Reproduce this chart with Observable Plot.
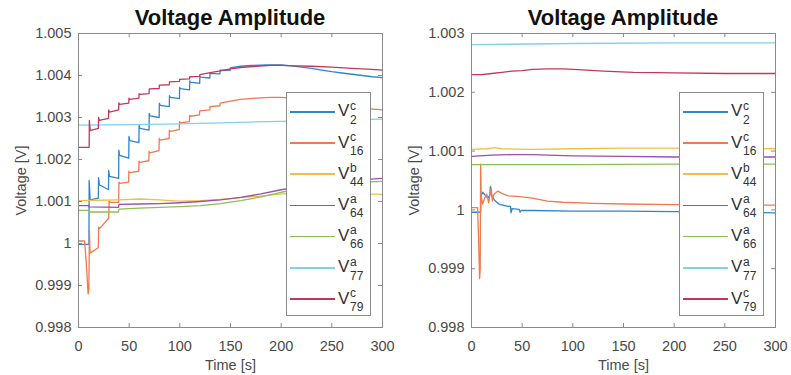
<!DOCTYPE html>
<html><head><meta charset="utf-8">
<script src="https://cdn.jsdelivr.net/npm/d3@7"></script>
<script src="https://cdn.jsdelivr.net/npm/@observablehq/plot@0.6"></script>
<style>
body{margin:0;background:#fff;font-family:"Liberation Sans",Arial,sans-serif;}
#wrap{position:relative;width:791px;height:375px;overflow:hidden;background:#fff;}
.panel{position:absolute;top:0;height:375px;}
.title{position:absolute;top:7px;left:78px;width:304px;font-size:22px;line-height:22px;font-weight:bold;color:#111;text-align:center;white-space:nowrap;}
.legend{position:absolute;top:92px;left:286px;width:85px;height:224px;background:#fff;border:1px solid #8a8a8a;box-sizing:border-box;}
.lg-line{position:absolute;left:3px;width:45px;height:1.5px;}
.lg-v{position:absolute;left:51px;font-size:17px;line-height:17px;color:#333;}
.lg-s{position:absolute;left:63px;font-size:12px;line-height:12px;color:#333;}
.panel svg{position:absolute;top:0;left:0;max-width:none !important;}
</style></head>
<body><div id="wrap"></div>
<script>
// ---------- data ----------
const seriesNames = ["V2c","V16c","V44b","V64a","V66a","V77a","V79c"];
const legendBase = ["V","V","V","V","V","V","V"];
const legendSup = ["c","c","b","a","a","a","c"];
const legendSub = ["2","16","44","64","66","77","79"];
const seriesColors = ["#2f86cc","#ee7a4e","#f2be45","#9b4fae","#8cc056","#7fd0f2","#c0395a"];

const xTicks = [0,50,100,150,200,250,300];
const leftYTicks = [0.998,0.999,1,1.001,1.002,1.003,1.004,1.005];
const leftYLabels = ["0.998","0.999","1","1.001","1.002","1.003","1.004","1.005"];
const rightYTicks = [0.998,0.999,1,1.001,1.002,1.003];
const rightYLabels = ["0.998","0.999","1","1.001","1.002","1.003"];
const chartTitle = "Voltage Amplitude";
const xLabel = "Time [s]";
const yLabel = "Voltage [V]";

// left panel series [time, voltage]
const left_V2c = [[0,0.99998],[10.3,0.99998],[10.5,1.0015],[11.5,1.00104],[19.6,1.00108],[19.8,1.00157],[20.6,1.0014],[29.6,1.00128],[29.8,1.00174],[30.6,1.0016],[39.6,1.00155],[39.8,1.00222],[40.6,1.0021],[49.6,1.00203],[49.8,1.00255],[50.6,1.00245],[59.6,1.0024],[59.8,1.00282],[60.6,1.00274],[69.6,1.0027],[69.8,1.0031],[70.6,1.00304],[79.6,1.003],[79.8,1.00334],[80.6,1.00329],[89.6,1.00326],[89.8,1.00352],[90.6,1.00348],[99.6,1.00345],[99.8,1.00372],[100.6,1.00369],[109.6,1.00366],[109.8,1.00387],[110.6,1.00384],[119.6,1.00381],[119.8,1.00398],[120.6,1.00396],[129.6,1.00394],[129.8,1.00405],[139.6,1.00404],[139.8,1.00413],[149.6,1.00412],[149.8,1.00418],[159.8,1.00422],[170,1.00424],[185,1.00425],[200,1.00425],[210,1.00423],[220,1.0042],[230,1.00417],[240,1.00413],[250,1.00409],[260,1.00406],[270,1.00403],[280,1.004],[290,1.00397],[300,1.00395]];
const left_V16c = [[0,1.00006],[6,1.00006],[7.5,0.9996],[9.5,0.9988],[10.2,0.9989],[10.8,1.00031],[11.4,0.99977],[19.5,0.9999],[19.9,1.00039],[21,1.00036],[29.8,1.0006],[30.2,1.00102],[31,1.00098],[39.6,1.00098],[39.9,1.00146],[41,1.00143],[49.4,1.00146],[49.7,1.00172],[50.5,1.00169],[59.4,1.00172],[59.7,1.00196],[60.5,1.00193],[69.4,1.00197],[69.7,1.00219],[70.5,1.00216],[79.4,1.00221],[79.7,1.0025],[80.5,1.00246],[89.4,1.0025],[89.7,1.0027],[90.5,1.00267],[99.4,1.00271],[99.7,1.0029],[100.5,1.00287],[109.4,1.0029],[109.7,1.00305],[110.5,1.00303],[119.4,1.00306],[119.7,1.00316],[129.6,1.00318],[129.8,1.00326],[139.6,1.00328],[139.8,1.00334],[149.8,1.00339],[160,1.00343],[175,1.00346],[190,1.00348],[200,1.00348],[210,1.00346],[225,1.00342],[240,1.00337],[255,1.00332],[270,1.00326],[285,1.00321],[300,1.00318]];
const left_V44b = [[0,1.00102],[20,1.00103],[40,1.00104],[60,1.00106],[80,1.00104],[100,1.00101],[120,1.00102],[140,1.00105],[160,1.00109],[180,1.00113],[200,1.00118],[220,1.0012],[250,1.00119],[280,1.00118],[300,1.00117]];
const left_V64a = [[0,1.0009],[10,1.0009],[10.5,1.00087],[39.5,1.00086],[40,1.00093],[60,1.00094],[80,1.00095],[100,1.00097],[120,1.001],[140,1.00104],[160,1.0011],[180,1.00118],[200,1.00128],[220,1.00136],[240,1.00143],[260,1.00148],[280,1.00152],[300,1.00155]];
const left_V66a = [[0,1.00079],[10,1.00079],[10.5,1.00075],[39.5,1.00075],[40,1.00082],[60,1.00084],[80,1.00086],[100,1.00088],[120,1.0009],[140,1.00095],[160,1.00102],[180,1.00111],[200,1.00122],[220,1.00131],[240,1.00138],[260,1.00143],[280,1.00146],[300,1.00148]];
const left_V77a = [[0,1.00282],[50,1.00283],[100,1.00285],[150,1.00288],[200,1.00291],[250,1.00294],[300,1.00296]];
const left_V79c = [[0,1.00229],[10.5,1.00229],[10.7,1.00293],[11.5,1.00269],[19.6,1.00274],[19.8,1.003],[20.5,1.00293],[29.6,1.00298],[29.8,1.00318],[30.5,1.00313],[39.6,1.00318],[39.8,1.00335],[40.5,1.00331],[49.6,1.00334],[49.8,1.00346],[50.5,1.00343],[59.6,1.00346],[59.8,1.00357],[60.5,1.00355],[69.6,1.00357],[69.8,1.00368],[79.6,1.00369],[79.8,1.00377],[89.6,1.00378],[89.8,1.00385],[99.6,1.00386],[99.8,1.00391],[109.6,1.00392],[109.8,1.00397],[119.6,1.00398],[119.8,1.00402],[130,1.00407],[140,1.00411],[150,1.00416],[160,1.00419],[175,1.00422],[190,1.00424],[200,1.00424],[215,1.00423],[230,1.00422],[250,1.0042],[270,1.00417],[285,1.00415],[300,1.00413]];

// right panel series [time, voltage]
const right_V2c = [[0,0.99996],[9,0.99996],[9.5,1.00024],[11,1.0003],[13,1.00026],[16,1.0002],[18,1.00025],[18.7,1.0004],[20,1.00024],[23,1.00016],[27,1.0001],[36,1.00006],[38.5,1.00006],[39,0.99995],[40,1.00002],[47,1.00001],[48,0.99996],[49,0.99999],[60,0.99999],[100,0.99998],[150,0.99998],[200,0.99997],[250,0.99996],[300,0.99995]];
const right_V16c = [[0,1.00004],[6,1.00004],[7,0.9995],[8,0.99883],[8.6,0.999],[9,1.00078],[9.6,1.00024],[11,1.0001],[13,1.0002],[15,1.00027],[17,1.00012],[18.5,1.0003],[19.5,1.00037],[20.5,1.00015],[22,1.00026],[26,1.00032],[30,1.00028],[36,1.00024],[45,1.00023],[60,1.0002],[75,1.00015],[90,1.00013],[120,1.00011],[150,1.0001],[200,1.00009],[250,1.00008],[300,1.00008]];
const right_V44b = [[0,1.00103],[15,1.00104],[23,1.00106],[30,1.00104],[60,1.00103],[100,1.00104],[150,1.00105],[200,1.00105],[250,1.00105],[300,1.00104]];
const right_V64a = [[0,1.00091],[20,1.00093],[40,1.00094],[60,1.00094],[100,1.00092],[150,1.00091],[200,1.0009],[250,1.0009],[300,1.0009]];
const right_V66a = [[0,1.00077],[100,1.00077],[200,1.00078],[300,1.00078]];
const right_V77a = [[0,1.00281],[100,1.00283],[200,1.00284],[300,1.00284]];
const right_V79c = [[0,1.0023],[10,1.0023],[20,1.00232],[30,1.00234],[40,1.00236],[50,1.00237],[60,1.00239],[75,1.0024],[90,1.0024],[110,1.00238],[130,1.00236],[160,1.00234],[200,1.00233],[250,1.00232],[300,1.00232]];

const leftSeries = [left_V2c,left_V16c,left_V44b,left_V64a,left_V66a,left_V77a,left_V79c];
const rightSeries = [right_V2c,right_V16c,right_V44b,right_V64a,right_V66a,right_V77a,right_V79c];

// ---------- drawing ----------
const W = 398, H = 375, mL = 78, mR = 16, mT = 33, mB = 48;
const frameW = W - mL - mR, frameH = H - mT - mB;
const axisColor = "#8a8a8a";

function makePanel(left, series, yTicks, yLabels) {
  const panel = document.createElement("div");
  panel.className = "panel";
  panel.style.left = left + "px";
  panel.style.width = W + "px";
  const chart = Plot.plot({
    width: W, height: H,
    marginLeft: mL, marginRight: mR, marginTop: mT, marginBottom: mB,
    style: {fontFamily: "'Liberation Sans', Arial, sans-serif", fontSize: "14.5px", color: "#4a4a4a", background: "transparent", overflow: "visible", maxWidth: "none"},
    x: {domain: [0, 300]},
    y: {domain: [yTicks[0], yTicks[yTicks.length - 1]]},
    marks: [
      ...series.map((s, i) => Plot.line(s, {x: d => d[0], y: d => d[1], stroke: seriesColors[i], strokeWidth: 1.3})),
      Plot.frame({stroke: axisColor, strokeWidth: 1}),
      Plot.tickX(xTicks, {x: d => d, insetTop: frameH - 4, stroke: axisColor}),
      Plot.tickX(xTicks, {x: d => d, insetBottom: frameH - 4, stroke: axisColor}),
      Plot.tickY(yTicks, {y: d => d, insetRight: frameW - 4, stroke: axisColor}),
      Plot.tickY(yTicks, {y: d => d, insetLeft: frameW - 4, stroke: axisColor}),
      Plot.axisX(xTicks, {tickSize: 0, tickPadding: 13, label: xLabel, labelAnchor: "center", labelOffset: 42, labelArrow: false}),
      Plot.axisY(yTicks, {tickSize: 0, tickPadding: 7, tickFormat: d => yLabels[yTicks.indexOf(d)], label: yLabel, labelAnchor: "center", labelOffset: 63, labelArrow: false})
    ]
  });
  panel.appendChild(chart);

  const title = document.createElement("div");
  title.className = "title";
  title.textContent = chartTitle;
  panel.appendChild(title);

  const lg = document.createElement("div");
  lg.className = "legend";
  seriesNames.forEach((name, i) => {
    const ly = 18 + i * 31.2;
    const line = document.createElement("div");
    line.className = "lg-line";
    line.style.top = ly + "px";
    line.style.background = seriesColors[i];
    lg.appendChild(line);
    const v = document.createElement("div");
    v.className = "lg-v"; v.textContent = legendBase[i];
    v.style.top = (ly - 8.6) + "px";
    lg.appendChild(v);
    const sp = document.createElement("div");
    sp.className = "lg-s"; sp.textContent = legendSup[i];
    sp.style.top = (ly - 11.5) + "px";
    lg.appendChild(sp);
    const sb = document.createElement("div");
    sb.className = "lg-s"; sb.textContent = legendSub[i];
    sb.style.top = (ly + 2.5) + "px";
    lg.appendChild(sb);
  });
  panel.appendChild(lg);
  return panel;
}

const wrap = document.getElementById("wrap");
wrap.appendChild(makePanel(0, leftSeries, leftYTicks, leftYLabels));
wrap.appendChild(makePanel(393, rightSeries, rightYTicks, rightYLabels));
</script></body></html>
